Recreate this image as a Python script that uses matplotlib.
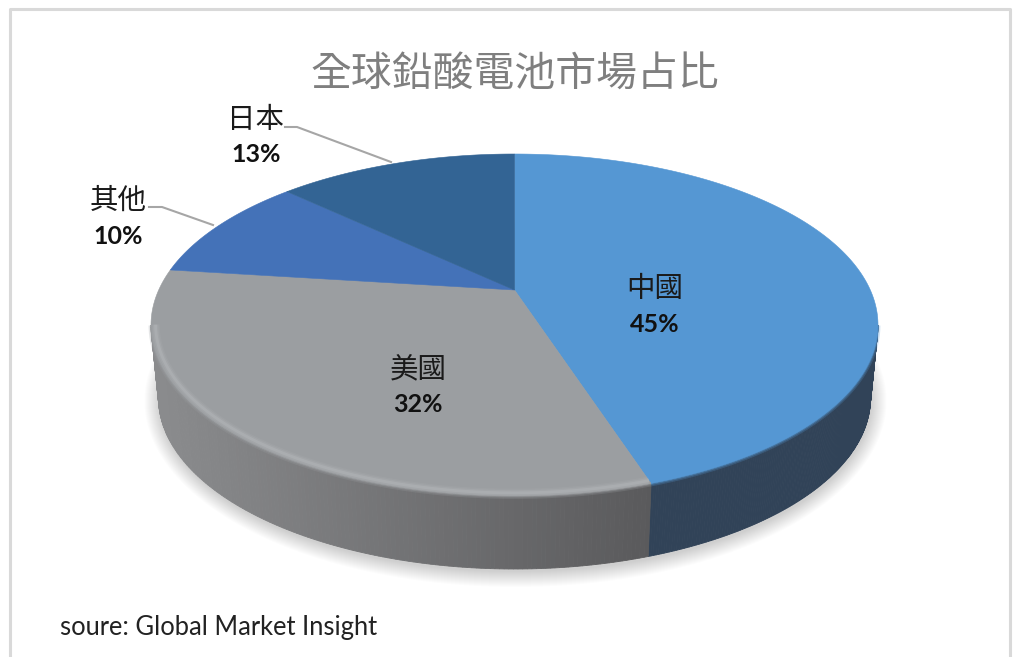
import numpy as np
import matplotlib
matplotlib.use("Agg")
import matplotlib.pyplot as plt
from matplotlib.colors import to_rgb

CJK = ['Noto Sans CJK TC', 'DejaVu Sans']
title = "全球鉛酸電池市場占比"
source = "soure: Global Market Insight"
categories = ["中國", "美國", "其他", "日本"]
shares = [45, 32, 10, 13]
top_colors = ["#5597d3", "#9b9ea1", "#4472b8", "#336494"]
side_dark = ["#314358", "#5a5a5c", "#2d4a80", "#22425f"]
side_light = ["#314358", "#8a8b8d", "#2d4a80", "#22425f"]
label_pos = [(655, 289), (418, 369), (118, 201), (256, 120)]
leaders = {2: [(149, 207), (162, 207), (213, 225)],
           3: [(285, 127), (297, 127), (391, 162)]}

W, H = 1016, 657
fig = plt.figure(figsize=(W / 100, H / 100), dpi=100)
ax = fig.add_axes([0, 0, 1, 1])
ax.set_xlim(0, W)
ax.set_ylim(H, 0)
ax.axis("off")

# pie geometry: a circle seen in perspective
cx, cy, rx, ry = 514.5, 325, 363.5, 171
bx, by, brx, bry = 514.5, 398, 356, 171
a = 35 / 171


def project(theta, r=1.0):
    xu = r * np.sin(theta)
    yu = r * np.cos(theta)
    d = 1 + a * yu
    return xu * np.sqrt(1 - a * a) / d, (yu + a) / d


def top_xy(theta, r=1.0):
    xn, yn = project(theta, r)
    return cx + rx * xn, cy - ry * yn


def bottom_xy(theta):
    xn, yn = project(theta)
    return bx + brx * xn, by - bry * yn


# frame
ax.plot([10, 10, 1010, 1010], [H + 5, 8.5, 8.5, H + 5], color="#d9d9d9", lw=2.2, zorder=1)

# soft shadow under the disc
phi = np.linspace(0, 2 * np.pi, 300)
for grow in np.linspace(15, 0, 16):
    ax.fill(bx + 1 + (brx + grow) * np.cos(phi), by + 3 + (bry + grow) * np.sin(phi),
            color="#000000", alpha=0.012, lw=0, zorder=2)

edges = np.radians(np.concatenate([[0], np.cumsum(shares)]) * 3.6)
vis0, vis1 = np.arccos(-a), 2 * np.pi - np.arccos(-a)

# side wall
for i in range(len(shares)):
    t0, t1 = max(edges[i], vis0), min(edges[i + 1], vis1)
    if t1 <= t0:
        continue
    ts = np.linspace(t0, t1, 160)
    for u0, u1 in zip(ts[:-1], ts[1:]):
        tx0, ty0 = top_xy(u0)
        tx1, ty1 = top_xy(u1)
        bx0, by0 = bottom_xy(u0)
        bx1, by1 = bottom_xy(u1)
        f = np.clip(((tx0 + tx1) / 2 - 160) / 490, 0, 1)
        c = (1 - f) * np.array(to_rgb(side_light[i])) + f * np.array(to_rgb(side_dark[i]))
        ax.fill([tx0, tx1, bx1, bx0], [ty0, ty1, by1, by0], color=c, lw=0.6, ec=c, zorder=3)

# top face
for i in range(len(shares)):
    ts = np.linspace(edges[i], edges[i + 1], 200)
    x, y = top_xy(ts)
    ax.fill(np.r_[cx, x], np.r_[cy - ry * a, y], color=top_colors[i], lw=0.4,
            ec=top_colors[i], zorder=4)

# rim: soft bevel on the front of the disc
for i in range(len(shares)):
    t0, t1 = max(edges[i], vis0), min(edges[i + 1], vis1)
    if t1 <= t0:
        continue
    ts = np.linspace(t0, t1, 200)
    x, y = top_xy(ts)
    for lw, al in [(3.5, 0.25), (1.5, 0.4)]:
        ax.plot(x, y + 0.5, color=top_colors[i], lw=lw, alpha=al, zorder=5, solid_capstyle="butt")
    if i == 1:
        x, y = top_xy(ts, 0.988)
        for lw, al in [(6, 0.05), (4, 0.08), (2, 0.12)]:
            ax.plot(x, y, color="#e4e4e6", lw=lw, alpha=al, zorder=5, solid_capstyle="butt")

# leader lines
for pts in leaders.values():
    xs, ys = zip(*pts)
    ax.plot(xs, ys, color="#a6a6a6", lw=1.5, zorder=6)

# labels
for name, v, (lx, ly) in zip(categories, shares, label_pos):
    ax.text(lx, ly, name, family=CJK, fontsize=20.5, color="#1a1a1a", ha="center", va="center", zorder=7)
    ax.text(lx, ly + 35, f"{v}%", family="Lato", fontweight="bold", fontsize=18, color="#111111",
            ha="center", va="center", zorder=7)

ax.text(514.5, 74, title, family=CJK, fontsize=29.4, color="#7f7f7f", ha="center", va="center", zorder=7)
ax.text(60, 627, source, family="Lato", fontsize=18.4, color="#222222", ha="left", va="center", zorder=7)

fig.savefig("out.png", dpi=100, facecolor="white")
